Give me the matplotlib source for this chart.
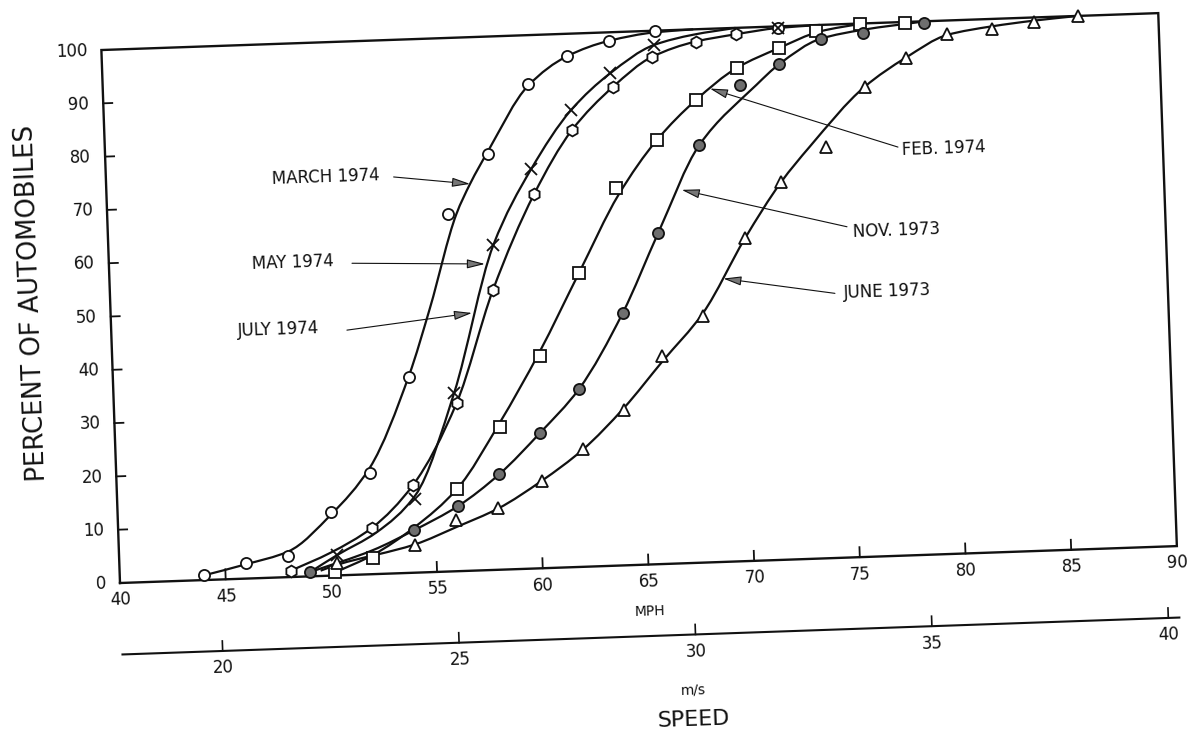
import numpy as np
import matplotlib
matplotlib.use("Agg")
import matplotlib.pyplot as plt
from matplotlib.path import Path
from matplotlib.patches import PathPatch
from matplotlib.transforms import Affine2D

# ---------------------------------------------------------------- data
# Cumulative speed distributions (percent of automobiles at or below speed)
march74_mph = [44.0, 46.0, 48.0, 50.1, 52.0, 54.0, 56.1, 58.1, 60.1, 62.0, 64.0, 66.2, 72.0]
march74_pct = [0.9, 2.9, 4.0, 12.0, 18.9, 36.7, 67.0, 77.9, 90.8, 95.8, 98.4, 99.9, 99.7]

may74_mph = [50.3, 54.1, 56.1, 58.2, 60.1, 62.1, 64.0, 66.1, 72.0]
may74_pct = [3.8, 13.9, 33.4, 60.9, 74.8, 85.7, 92.3, 97.3, 99.7]

july74_mph = [48.1, 52.0, 54.0, 56.2, 58.1, 60.2, 62.1, 64.1, 66.0, 68.1, 70.0]
july74_pct = [1.2, 8.7, 16.4, 31.5, 52.4, 70.1, 81.9, 89.7, 95.1, 97.7, 98.8]

feb74_mph = [50.2, 52.0, 56.1, 58.2, 60.2, 62.2, 64.1, 66.1, 68.0, 70.0, 72.0, 73.8, 75.9, 78.0]
feb74_pct = [0.6, 3.1, 15.5, 26.8, 39.7, 55.1, 70.8, 79.5, 86.7, 92.5, 95.9, 98.8, 100.0, 99.8]

nov73_mph = [49.0, 54.0, 56.1, 58.1, 60.1, 62.0, 64.2, 66.0, 68.1, 70.1, 72.0, 74.0, 76.0, 78.9]
nov73_pct = [0.8, 8.0, 12.2, 17.9, 25.4, 33.3, 47.3, 62.0, 78.3, 89.3, 92.9, 97.4, 98.2, 99.6]

june73_mph = [50.3, 54.0, 56.0, 58.0, 60.1, 62.1, 64.1, 66.0, 68.0, 70.1, 71.9, 74.1, 76.0,
              78.0, 80.0, 82.1, 84.1, 86.2]
june73_pct = [2.3, 5.1, 9.6, 11.5, 16.4, 22.0, 29.1, 39.0, 46.2, 60.5, 70.8, 77.1, 88.1,
              93.3, 97.5, 98.1, 99.2, 100.0]

# Hand-faired curves drawn through each set of observations
march74_fit_mph = [44.0, 46.0, 48.0, 50.1, 52.0, 54.0, 55.1, 56.5, 57.2, 58.1, 60.1, 62.0, 64.0, 66.2, 68.0]
march74_fit_pct = [0.9, 2.7, 4.8, 11.5, 20.0, 37.0, 49.5, 66.9, 72.5, 78.5, 90.5, 95.8, 98.4, 99.7, 100.0]

may74_fit_mph = [49.0, 50.3, 52.2, 54.1, 56.1, 58.2, 60.1, 62.1, 64.0, 66.1, 68.0, 70.0]
may74_fit_pct = [0.8, 3.8, 7.8, 14.5, 33.4, 60.9, 74.8, 85.7, 92.3, 97.3, 99.0, 100.0]

july74_fit_mph = [48.1, 50.0, 52.0, 54.0, 56.2, 58.1, 60.2, 62.1, 64.1, 66.0, 68.1, 70.0, 72.0, 74.0]
july74_fit_pct = [1.2, 4.3, 8.7, 16.4, 31.5, 52.4, 70.1, 81.9, 89.7, 95.1, 97.7, 98.8, 99.7, 100.0]

feb74_fit_mph = [50.2, 52.0, 54.0, 56.1, 58.2, 60.2, 62.2, 64.2, 66.1, 68.0, 70.0, 72.0, 74.0, 76.0]
feb74_fit_pct = [0.6, 3.6, 8.5, 15.5, 27.5, 40.5, 55.1, 69.5, 79.5, 86.7, 92.5, 95.9, 98.8, 100.0]

nov73_fit_mph = [49.0, 52.0, 54.0, 56.1, 58.1, 60.1, 62.0, 64.2, 66.0, 68.1, 70.9, 72.0, 74.0, 76.0, 79.0]
nov73_fit_pct = [0.8, 4.5, 8.0, 12.2, 17.9, 25.4, 33.3, 47.3, 62.0, 78.3, 89.2, 92.9, 97.4, 98.8, 100.0]

june73_fit_mph = [49.5, 50.3, 54.0, 56.0, 58.0, 60.1, 62.1, 64.1, 66.0, 68.0, 70.1, 71.9, 73.3, 76.0,
                  78.0, 80.0, 82.1, 84.1, 86.2]
june73_fit_pct = [1.0, 2.0, 5.3, 8.3, 11.5, 16.4, 22.0, 29.5, 38.0, 46.8, 60.5, 70.8, 77.2, 88.1,
                  93.3, 97.3, 98.6, 99.4, 100.0]

series_labels = ["MARCH 1974", "MAY 1974", "JULY 1974", "FEB. 1974", "NOV. 1973", "JUNE 1973"]

x_ticks_mph = [40, 45, 50, 55, 60, 65, 70, 75, 80, 85, 90]
y_ticks_pct = [0, 10, 20, 30, 40, 50, 60, 70, 80, 90, 100]
x_ticks_ms = [20, 25, 30, 35, 40]
MPH_PER_MS = 1.0 / 0.44704

# ---------------------------------------------------------------- layout
W_PX, H_PX, DPI = 1188, 737, 100
TILT = 2.0                      # the whole sheet sits slightly rotated
ORIGIN = (120.0, 154.0)         # display pixels of (40 mph, 0 %)
PX_PER_MPH = 21.15
PX_PER_PCT = 5.333

fig = plt.figure(figsize=(W_PX / DPI, H_PX / DPI), dpi=DPI)
fig.patch.set_facecolor("white")
ax = fig.add_axes([ORIGIN[0] / W_PX, ORIGIN[1] / H_PX,
                   50 * PX_PER_MPH / W_PX, 100 * PX_PER_PCT / H_PX])
ax.set_xlim(40, 90)
ax.set_ylim(0, 100)
ax.set_axis_off()

tilt = Affine2D().rotate_deg_around(ORIGIN[0], ORIGIN[1], TILT)
T = ax.transData + tilt


def shifted(dx, dy):
    """Data transform offset by (dx, dy) pixels in the tilted frame."""
    return ax.transData + Affine2D().translate(dx, dy) + tilt


FONT = "DejaVu Sans"
INK = "#111111"


def smooth_path(x, y):
    """Monotone cubic (Fritsch-Carlson) curve through the knots as a Bezier path."""
    x = np.asarray(x, float)
    y = np.asarray(y, float)
    h = np.diff(x)
    d = np.diff(y) / h
    m = np.zeros_like(y)
    m[0], m[-1] = d[0], d[-1]
    for k in range(1, len(x) - 1):
        if d[k - 1] * d[k] > 0:
            w1 = 2 * h[k] + h[k - 1]
            w2 = h[k] + 2 * h[k - 1]
            m[k] = (w1 + w2) / (w1 / d[k - 1] + w2 / d[k])
    verts = [(x[0], y[0])]
    codes = [Path.MOVETO]
    for k in range(len(x) - 1):
        verts += [(x[k] + h[k] / 3, y[k] + m[k] * h[k] / 3),
                  (x[k + 1] - h[k] / 3, y[k + 1] - m[k + 1] * h[k] / 3),
                  (x[k + 1], y[k + 1])]
        codes += [Path.CURVE4] * 3
    return Path(verts, codes)


# ---------------------------------------------------------------- frame
ax.plot([40, 90, 90, 40, 40], [0, 0, 100, 100, 0], transform=T, color=INK,
        lw=1.7, clip_on=False, solid_joinstyle="miter", zorder=2)

tick_up = 10 / PX_PER_PCT
tick_in = 9 / PX_PER_MPH
for v in x_ticks_mph[1:-1]:
    ax.plot([v, v], [0, tick_up], transform=T, color=INK, lw=1.3, clip_on=False)
for v in y_ticks_pct[1:-1]:
    ax.plot([40, 40 + tick_in], [v, v], transform=T, color=INK, lw=1.3, clip_on=False)

for v in x_ticks_mph:
    ax.text(v, 0, str(v), transform=shifted(0, -17), rotation=TILT, rotation_mode="anchor",
            ha="center", va="center", fontsize=12, family=FONT, color=INK)
for v in y_ticks_pct:
    ax.text(40, v, str(v), transform=shifted(-14, 0), rotation=TILT, rotation_mode="anchor",
            ha="right", va="center", fontsize=12, family=FONT, color=INK)

ax.text(65, 0, "MPH", transform=shifted(0, -47), rotation=TILT, rotation_mode="anchor",
        ha="center", va="center", fontsize=10, family=FONT, color=INK)
ax.text(36.3, 53, "PERCENT OF AUTOMOBILES", transform=T, rotation=90 + TILT,
        rotation_mode="anchor", ha="center", va="center", fontsize=18.5, family=FONT, color=INK)

# secondary speed scale in metres per second
MS_OFFSET = -71.5
ax.plot([40, 90], [0, 0], transform=shifted(0, MS_OFFSET), color=INK, lw=1.5, clip_on=False)
for v in x_ticks_ms:
    ax.plot([v * MPH_PER_MS] * 2, [0, tick_up], transform=shifted(0, MS_OFFSET),
            color=INK, lw=1.2, clip_on=False)
    ax.text(v * MPH_PER_MS, 0, str(v), transform=shifted(0, MS_OFFSET - 17), rotation=TILT,
            rotation_mode="anchor", ha="center", va="center", fontsize=12, family=FONT, color=INK)
ax.text(66.9, 0, "m/s", transform=shifted(0, -127), rotation=TILT, rotation_mode="anchor",
        ha="center", va="center", fontsize=10, family=FONT, color=INK)
ax.text(66.9, 0, "SPEED", transform=shifted(0, -157), rotation=TILT, rotation_mode="anchor",
        ha="center", va="center", fontsize=16, family=FONT, color=INK)

# ---------------------------------------------------------------- curves and points
fits = [(march74_fit_mph, march74_fit_pct), (may74_fit_mph, may74_fit_pct),
        (july74_fit_mph, july74_fit_pct), (feb74_fit_mph, feb74_fit_pct),
        (nov73_fit_mph, nov73_fit_pct), (june73_fit_mph, june73_fit_pct)]
for fx, fy in fits:
    ax.add_patch(PathPatch(smooth_path(fx, fy), transform=T, fill=False, ec=INK,
                           lw=1.6, clip_on=False, zorder=3))

points = [
    (march74_mph, march74_pct, dict(marker="o", ms=8, mfc="white")),
    (may74_mph, may74_pct, dict(marker="x", ms=8, mfc="none")),
    (july74_mph, july74_pct, dict(marker="h", ms=8.5, mfc="white")),
    (feb74_mph, feb74_pct, dict(marker="s", ms=8, mfc="white")),
    (nov73_mph, nov73_pct, dict(marker="o", ms=8, mfc="#6e6e6e")),
    (june73_mph, june73_pct, dict(marker="^", ms=9, mfc="white")),
]
for px, py, style in points:
    ax.plot(px, py, ls="none", mec=INK, mew=1.3, transform=T, clip_on=False,
            zorder=4, **style)

# ---------------------------------------------------------------- labels with leader arrows
label_text_pos = [(47.85, 74.7), (46.77, 58.9), (45.99, 46.4), (77.67, 76.0), (75.22, 61.0), (74.69, 49.6)]
arrow_tail = [(53.6, 74.3), (51.49, 58.4), (51.14, 45.9), (77.48, 76.6), (74.94, 62.0), (74.26, 49.6)]
arrow_tip = [(57.2, 72.5), (57.77, 57.4), (57.08, 48.3), (68.69, 88.8), (67.19, 70.0), (69.01, 53.1)]

for name, (tx, ty), tail, tip in zip(series_labels, label_text_pos, arrow_tail, arrow_tip):
    ax.text(tx, ty, name, transform=T, rotation=TILT, rotation_mode="anchor",
            ha="left", va="center", fontsize=12, family=FONT, color=INK, zorder=5)
    ax.annotate("", xy=tip, xytext=tail, xycoords=T, textcoords=T, annotation_clip=False,
                arrowprops=dict(arrowstyle="-|>,head_length=1.1,head_width=0.28",
                                lw=0.8, ec=INK, fc="#777777", shrinkA=0, shrinkB=0),
                zorder=5)

fig.savefig("out.png", dpi=DPI, facecolor="white")
